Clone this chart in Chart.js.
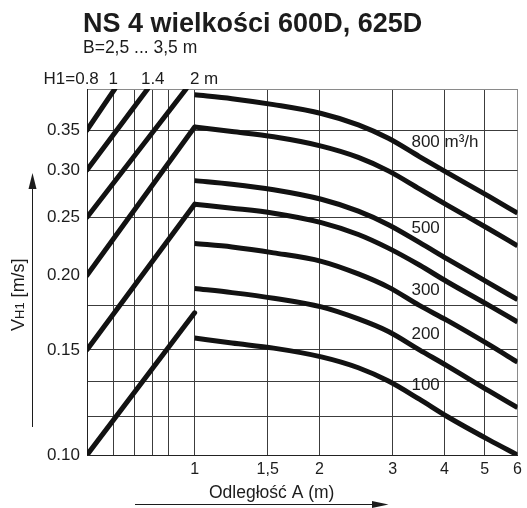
<!DOCTYPE html>
<html>
<head>
<meta charset="utf-8">
<script src="https://cdn.jsdelivr.net/npm/chart.js@4.4.1/dist/chart.umd.min.js"></script>
<style>
  html, body { margin: 0; padding: 0; background: #fff; }
  #wrap { width: 527px; height: 508px; }
</style>
</head>
<body>
<div id="wrap"><canvas id="chart" width="527" height="508"></canvas></div>
<script>
const FONT = "'Liberation Sans', Arial, sans-serif";

const distA = [1, 1.23, 1.55, 2.02, 2.48, 2.93, 3.48, 4.06, 5.12, 6];

// velocity V_H1 (m/s) per air flow curve, top to bottom
const curve800 = [0.401, 0.395, 0.386, 0.373, 0.357, 0.339, 0.316, 0.297, 0.271, 0.254];
const curveB   = [0.354, 0.348, 0.341, 0.329, 0.315, 0.299, 0.279, 0.262, 0.239, 0.224];
const curve500 = [0.288, 0.284, 0.278, 0.268, 0.256, 0.243, 0.227, 0.213, 0.194, 0.182];
const curveD   = [0.263, 0.259, 0.254, 0.245, 0.234, 0.222, 0.208, 0.195, 0.178, 0.167];
const curve300 = [0.226, 0.223, 0.218, 0.211, 0.201, 0.191, 0.178, 0.168, 0.153, 0.143];
const curve200 = [0.190, 0.187, 0.183, 0.177, 0.169, 0.161, 0.150, 0.141, 0.128, 0.120];
const curve100 = [0.157, 0.154, 0.151, 0.146, 0.140, 0.133, 0.124, 0.116, 0.106, 0.100];

// H1 conversion lines (left part): start at H1 = 0.8, end at given H1 / velocity
const h1Start    = 0.8;
const h1StartVel = [0.35, 0.30, 0.25, 0.20, 0.15, 0.10];
const h1End      = [1.013, 1.34, 1.86, 2, 2, 2];
const h1EndVel   = [0.41, 0.41, 0.41, 0.354, 0.263, 0.173];

// curve labels
const flowLabels = ['800 m³/h', '500', '300', '200', '100'];
const flowLabelA = 3.33;
const flowLabelV = [0.334, 0.240, 0.189, 0.159, 0.131];

// axes
const xTicks      = [1, 1.5, 2, 3, 4, 5, 6];
const xTickLabels = ['1', '1,5', '2', '3', '4', '5', '6'];
const yGrid       = [0.10, 0.116, 0.133, 0.15, 0.178, 0.20, 0.25, 0.30, 0.35];
const yTicks      = [0.10, 0.15, 0.20, 0.25, 0.30, 0.35];
const yTickLabels = ['0.10', '0.15', '0.20', '0.25', '0.30', '0.35'];
const h1Grid      = [0.8, 1, 1.2, 1.4, 1.6, 2];
const h1Ticks     = [0.8, 1, 1.4, 2];
const h1TickLabels = ['0.8', '1', '1.4', '2'];

const near = (a, b) => Math.abs(a - b) < 1e-9;

const curves = [curve800, curveB, curve500, curveD, curve300, curve200, curve100];
const datasets = curves.map(vals => ({
  data: vals.map((v, i) => ({ x: distA[i], y: v })),
  xAxisID: 'x', yAxisID: 'y',
  borderColor: '#121212', borderWidth: 5, pointRadius: 0,
  cubicInterpolationMode: 'monotone', fill: false, clip: 0
}));
h1StartVel.forEach((v, i) => {
  datasets.push({
    data: [{ x: h1Start, y: v }, { x: h1End[i], y: h1EndVel[i] }],
    xAxisID: 'h1', yAxisID: 'y',
    borderColor: '#121212', borderWidth: 5, pointRadius: 0,
    borderCapStyle: 'round', fill: false, clip: 0
  });
});

const decor = {
  id: 'decor',
  afterDraw(chart) {
    const { ctx, scales } = chart;
    ctx.save();
    ctx.fillStyle = '#1c1c1c';
    ctx.strokeStyle = '#1c1c1c';

    // title and subtitle
    ctx.textAlign = 'left';
    ctx.textBaseline = 'alphabetic';
    ctx.font = 'bold 27px ' + FONT;
    ctx.fillText('NS 4 wielkości 600D, 625D', 83, 32);
    ctx.font = '17.5px ' + FONT;
    ctx.fillText('B=2,5 ... 3,5 m', 83, 53);

    // H1 labels above the grid
    ctx.font = '17px ' + FONT;
    ctx.textBaseline = 'middle';
    h1Ticks.forEach((v, i) => {
      const px = scales.h1.getPixelForValue(v);
      const num = h1TickLabels[i];
      const w = ctx.measureText(num).width;
      const pre = i === 0 ? 'H1=' : '';
      const post = i === h1Ticks.length - 1 ? ' m' : '';
      const preW = ctx.measureText(pre).width;
      ctx.fillText(pre + num + post, px - w / 2 - preW, 79);
    });

    // curve labels
    flowLabels.forEach((t, i) => {
      ctx.fillText(t, scales.x.getPixelForValue(flowLabelA), scales.y.getPixelForValue(flowLabelV[i]));
    });

    // y title with subscript
    ctx.save();
    ctx.translate(24, 331);
    ctx.rotate(-Math.PI / 2);
    ctx.textBaseline = 'alphabetic';
    ctx.font = '18px ' + FONT;
    ctx.fillText('V', 0, 0);
    let xx = ctx.measureText('V').width;
    ctx.font = '13px ' + FONT;
    ctx.fillText('H1', xx, 0);
    xx += ctx.measureText('H1').width;
    ctx.font = '18px ' + FONT;
    ctx.fillText(' [m/s]', xx, 0);
    ctx.restore();

    // y arrow
    ctx.lineWidth = 1;
    ctx.beginPath();
    ctx.moveTo(32.5, 427); ctx.lineTo(32.5, 186);
    ctx.stroke();
    ctx.beginPath();
    ctx.moveTo(32.5, 173); ctx.lineTo(28.5, 189); ctx.lineTo(36.5, 189);
    ctx.closePath(); ctx.fill();

    // x title and arrow
    ctx.font = '17.5px ' + FONT;
    ctx.textBaseline = 'alphabetic';
    ctx.fillText('Odległość A (m)', 209, 497.5);
    ctx.beginPath();
    ctx.moveTo(135, 504.5); ctx.lineTo(374, 504.5);
    ctx.stroke();
    ctx.beginPath();
    ctx.moveTo(388.5, 504.5); ctx.lineTo(372, 501); ctx.lineTo(372, 508);
    ctx.closePath(); ctx.fill();

    ctx.restore();
  }
};

Chart.defaults.font.family = FONT;
Chart.defaults.color = '#1c1c1c';

new Chart(document.getElementById('chart'), {
  type: 'line',
  data: { datasets },
  options: {
    responsive: false,
    animation: false,
    devicePixelRatio: 1,
    layout: { padding: { top: 89, left: 0, right: 5, bottom: 0 } },
    plugins: { legend: { display: false }, tooltip: { enabled: false }, title: { display: false } },
    scales: {
      h1: {
        type: 'logarithmic', position: 'top', min: 0.8, max: 31.25,
        afterBuildTicks: s => { s.ticks = h1Grid.map(v => ({ value: v })); },
        afterFit: s => { s.height = 0; },
        ticks: { display: false },
        grid: { color: '#3c3c3c', drawTicks: false },
        border: { color: '#8a8a8a' }
      },
      x: {
        type: 'logarithmic', position: 'bottom', min: Math.pow(6, -1 / 3), max: 6,
        afterBuildTicks: s => { s.ticks = xTicks.map(v => ({ value: v })); },
        afterFit: s => { s.height = 53; },
        ticks: {
          autoSkip: false, maxRotation: 0, padding: 5, font: { size: 16 },
          callback: v => { const i = xTicks.findIndex(t => near(t, v)); return i < 0 ? '' : xTickLabels[i]; }
        },
        grid: { color: c => (c.tick && near(c.tick.value, 6)) ? '#8a8a8a' : '#3c3c3c', drawTicks: false },
        border: { color: '#222' }
      },
      y: {
        type: 'logarithmic', min: 0.1, max: 0.41,
        afterBuildTicks: s => { s.ticks = yGrid.map(v => ({ value: v })); },
        afterFit: s => { s.width = 87; },
        ticks: {
          autoSkip: false, padding: 7, font: { size: 17 },
          callback: v => { const i = yTicks.findIndex(t => near(t, v)); return i < 0 ? '' : yTickLabels[i]; }
        },
        grid: { color: c => (c.tick && near(c.tick.value, 0.2)) ? 'rgba(0,0,0,0)' : '#3c3c3c', drawTicks: false },
        border: { color: '#222' }
      }
    }
  },
  plugins: [decor]
});
</script>
</body>
</html>
